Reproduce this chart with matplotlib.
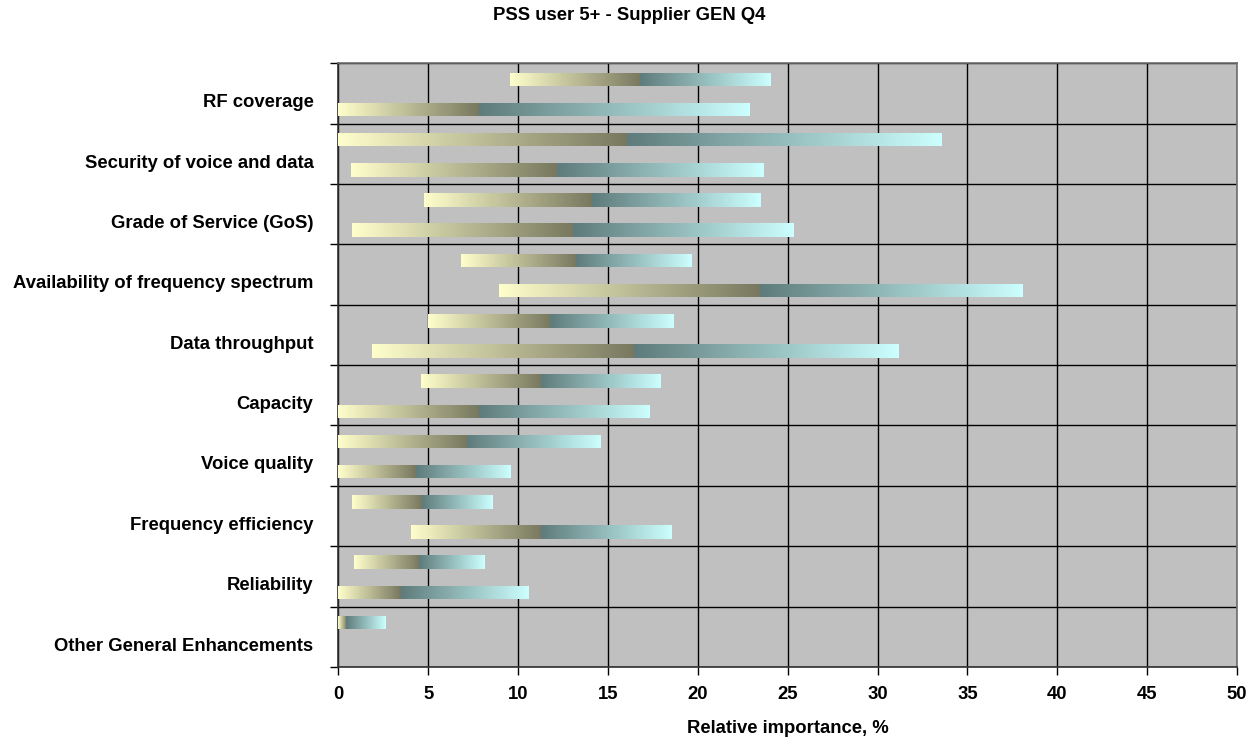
import numpy as np
import matplotlib
matplotlib.use("Agg")
import matplotlib.pyplot as plt
from matplotlib.colors import LinearSegmentedColormap

plt.rcParams['font.family'] = ['Liberation Sans', 'DejaVu Sans']
plt.rcParams['font.weight'] = 'bold'

title = "PSS user 5+ - Supplier GEN Q4"
xlabel = "Relative importance, %"
categories = ["RF coverage", "Security of voice and data", "Grade of Service (GoS)",
              "Availability of frequency spectrum", "Data throughput", "Capacity",
              "Voice quality", "Frequency efficiency", "Reliability",
              "Other General Enhancements"]

# upper bar of each category: start, middle, end
upper_start = [9.55, 0.0, 4.76, 6.82, 4.97, 4.60, 0.0, 0.76, 0.87, 0.0]
upper_mid   = [16.80, 16.06, 14.10, 13.23, 11.77, 11.29, 7.17, 4.63, 4.50, 0.45]
upper_end   = [24.07, 33.58, 23.45, 19.67, 18.62, 17.95, 14.61, 8.55, 8.16, 2.65]
# lower bar of each category
lower_start = [0.0, 0.70, 0.76, 8.93, 1.86, 0.0, 0.0, 4.04, 0.0, 0.0]
lower_mid   = [7.82, 12.16, 13.07, 23.45, 16.47, 7.82, 4.32, 11.29, 3.48, 0.0]
lower_end   = [22.85, 23.67, 25.35, 38.04, 31.19, 17.28, 9.60, 18.56, 10.60, 0.0]

xticks = [0, 5, 10, 15, 20, 25, 30, 35, 40, 45, 50]

cmap_left = LinearSegmentedColormap.from_list("l", ["#FFFFCC", "#787860"])
cmap_right = LinearSegmentedColormap.from_list("r", ["#5F7B7B", "#CCFFFF"])
grad = np.linspace(0, 1, 256).reshape(1, -1)

fig = plt.figure(figsize=(12.58, 7.4), dpi=100)
ax = fig.add_axes([0.269, 0.0987, 0.9833 - 0.269, 0.9145 - 0.0987])
ax.set_facecolor("#C0C0C0")

n = len(categories)
idx = np.arange(n)
h = 0.224
y_up = idx + 0.265
y_lo = idx + 0.765


def grad_bars(ypos, start, mid, end):
    start = np.array(start); mid = np.array(mid); end = np.array(end)
    left = ax.barh(ypos, mid - start, left=start, height=h, facecolor='none',
                   edgecolor='none', zorder=3)
    right = ax.barh(ypos, end - mid, left=mid, height=h, facecolor='none',
                    edgecolor='none', zorder=3)
    for bars, cm in ((left, cmap_left), (right, cmap_right)):
        for p in bars:
            w = p.get_width()
            if w <= 0:
                continue
            x0, y0, hh = p.get_x(), p.get_y(), p.get_height()
            im = ax.imshow(grad, cmap=cm, aspect='auto', interpolation='bilinear',
                           extent=(x0, x0 + w, y0 + hh, y0), zorder=3)
            im.set_clip_path(p)


grad_bars(y_up, upper_start, upper_mid, upper_end)
grad_bars(y_lo, lower_start, lower_mid, lower_end)

ax.set_xlim(0, 50)
ax.set_ylim(n, 0)
ax.set_xticks(xticks)
ax.set_xticklabels([str(t) for t in xticks], fontsize=13.3, fontweight='bold')
ax.tick_params(axis='x', length=6, width=1, direction='out', pad=8, color='black')

ax.set_yticks(np.arange(n + 1))
ax.set_yticklabels([])
ax.set_yticks(idx + 0.62, minor=True)
ax.set_yticklabels(categories, minor=True, fontsize=13.3, fontweight='bold')
ax.tick_params(axis='y', which='major', length=6, width=1, direction='out', color='black')
ax.tick_params(axis='y', which='minor', length=0, pad=18)

ax.grid(True, which='major', color='black', linewidth=1.0, zorder=1)
ax.set_axisbelow(True)
for s in ax.spines.values():
    s.set_color('#303030')
    s.set_linewidth(1.2)
ax.spines['top'].set_color('#707070')
ax.spines['right'].set_color('#707070')

fig.text(0.5, 0.979, title, ha='center', va='center', fontsize=13.3, fontweight='bold')
fig.text(0.626, 0.016, xlabel, ha='center', va='center', fontsize=13.3, fontweight='bold')

fig.savefig("out.png", dpi=100, facecolor='white')
